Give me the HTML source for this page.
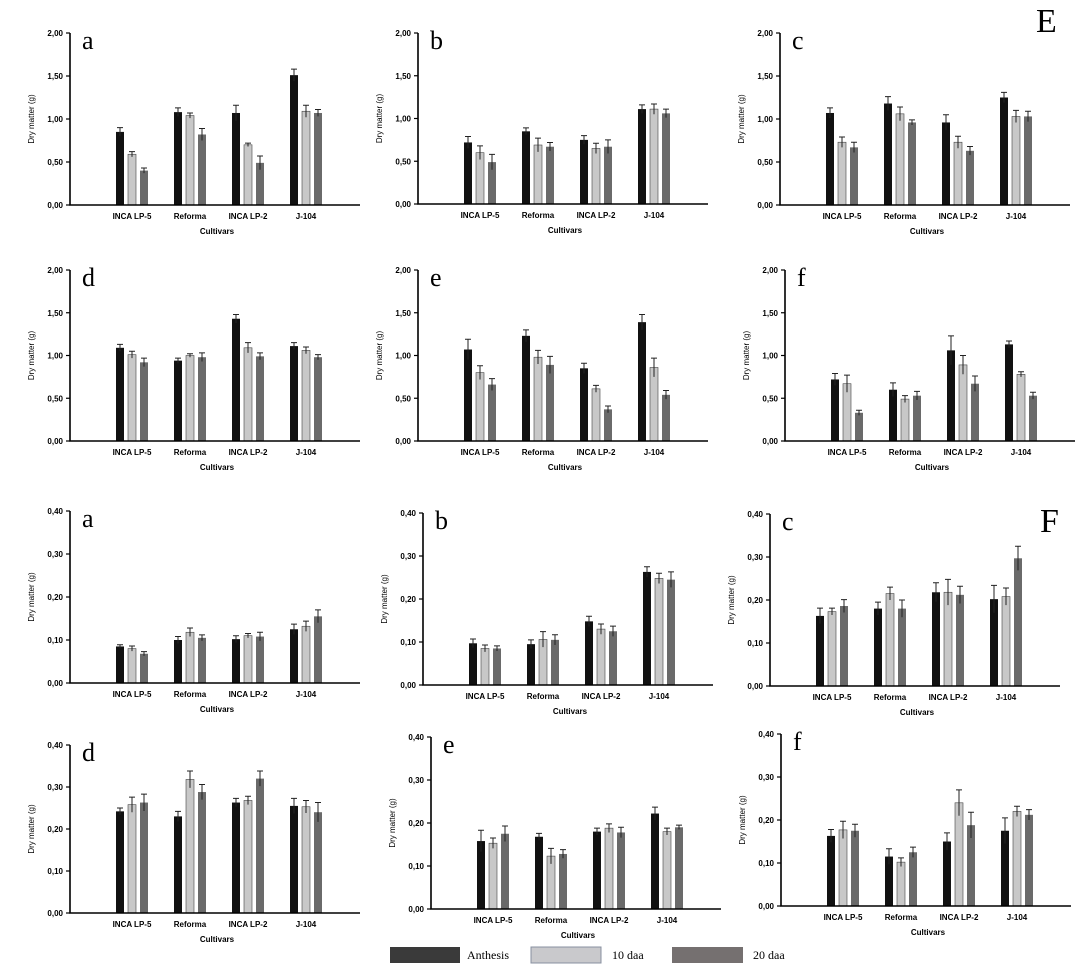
<!DOCTYPE html>
<html><head><meta charset="utf-8"><style>
body{margin:0;background:#fff;width:1082px;height:974px;overflow:hidden}
svg text{font-family:"Liberation Sans",Arial,sans-serif}
</style></head><body>
<svg id="fig" width="1082" height="974" viewBox="0 0 1082 974" xmlns="http://www.w3.org/2000/svg">
<text x="1036" y="32" font-size="34" style="font-family:'Liberation Serif',serif">E</text>
<text x="1040" y="532" font-size="34" style="font-family:'Liberation Serif',serif">F</text>
<g>
<rect x="390" y="947" width="70" height="16" fill="#3a3a3a"/>
<text x="467" y="959" font-size="12" style="font-family:'Liberation Serif',serif">Anthesis</text>
<rect x="531" y="947" width="70" height="16" fill="#c9c9cc" stroke="#8890a0"/>
<text x="612" y="959" font-size="12" style="font-family:'Liberation Serif',serif">10 daa</text>
<rect x="672" y="947" width="71" height="16" fill="#757070"/>
<text x="753" y="959" font-size="12" style="font-family:'Liberation Serif',serif">20 daa</text>
</g>
</svg>
<script>
const categories=["INCA LP-5","Reforma","INCA  LP-2","J-104"];
const seriesNames=["Anthesis","10 daa","20 daa"];
const ticksE=["0,00","0,50","1,00","1,50","2,00"];
const ticksF=["0,00","0,10","0,20","0,30","0,40"];
// E panels
const Ea=[[0.85,1.08,1.07,1.51],[0.59,1.04,0.70,1.09],[0.40,0.82,0.49,1.07]];
const EaErr=[[.05,.05,.09,.07],[.03,.03,.02,.07],[.03,.07,.08,.04]];
const Eb=[[0.72,0.85,0.75,1.11],[0.60,0.69,0.65,1.11],[0.49,0.67,0.67,1.06]];
const EbErr=[[.07,.04,.05,.05],[.08,.08,.06,.06],[.09,.05,.08,.05]];
const Ec=[[1.07,1.18,0.96,1.25],[0.73,1.06,0.73,1.03],[0.67,0.96,0.63,1.03]];
const EcErr=[[.06,.08,.09,.06],[.06,.08,.07,.07],[.06,.03,.05,.06]];
const Ed=[[1.09,0.94,1.43,1.11],[1.01,1.00,1.09,1.06],[0.92,0.98,0.99,0.98]];
const EdErr=[[.04,.03,.05,.04],[.04,.02,.06,.04],[.05,.05,.04,.03]];
const Ee=[[1.07,1.23,0.85,1.39],[0.80,0.98,0.61,0.86],[0.66,0.89,0.37,0.54]];
const EeErr=[[.12,.07,.06,.09],[.08,.08,.04,.11],[.07,.10,.04,.05]];
const Ef=[[0.72,0.60,1.06,1.13],[0.67,0.49,0.89,0.78],[0.33,0.53,0.67,0.53]];
const EfErr=[[.07,.08,.17,.04],[.10,.04,.11,.03],[.03,.05,.09,.04]];
// F panels
const Fa=[[.085,.10,.102,.125],[.08,.118,.11,.132],[.068,.105,.108,.155]];
const FaErr=[[.004,.008,.008,.012],[.006,.01,.005,.012],[.005,.007,.01,.015]];
const Fb=[[.097,.095,.148,.263],[.085,.106,.13,.248],[.085,.105,.125,.245]];
const FbErr=[[.01,.01,.012,.012],[.008,.018,.012,.012],[.006,.012,.012,.018]];
const Fc=[[.163,.18,.218,.202],[.173,.215,.218,.208],[.186,.18,.212,.297]];
const FcErr=[[.018,.015,.022,.032],[.008,.015,.03,.02],[.015,.02,.02,.028]];
const Fd=[[.242,.23,.263,.255],[.258,.318,.268,.253],[.263,.288,.32,.24]];
const FdErr=[[.008,.012,.01,.018],[.018,.02,.01,.015],[.02,.018,.018,.023]];
const Fe=[[.158,.168,.18,.222],[.153,.123,.188,.18],[.175,.128,.178,.19]];
const FeErr=[[.025,.008,.008,.015],[.012,.018,.01,.008],[.018,.01,.012,.005]];
const Ff=[[.163,.115,.15,.175],[.177,.102,.24,.22],[.175,.125,.188,.212]];
const FfErr=[[.015,.018,.02,.03],[.02,.01,.03,.012],[.015,.012,.03,.012]];

const NS="http://www.w3.org/2000/svg";
const svg=document.getElementById('fig');
function mk(tag,attrs,parent){const e=document.createElementNS(NS,tag);for(const k in attrs)e.setAttribute(k,attrs[k]);(parent||svg).appendChild(e);return e;}
const fills=["#111111","#c8c8c8","#6a6a6a"];
const panels=[
 {id:"e-a",L:"a",x:70,t:33,b:205,d:Ea,e:EaErr,max:2,ticks:ticksE},
 {id:"e-b",L:"b",x:418,t:33,b:204,d:Eb,e:EbErr,max:2,ticks:ticksE},
 {id:"e-c",L:"c",x:780,t:33,b:205,d:Ec,e:EcErr,max:2,ticks:ticksE},
 {id:"e-d",L:"d",x:70,t:270,b:441,d:Ed,e:EdErr,max:2,ticks:ticksE},
 {id:"e-e",L:"e",x:418,t:270,b:441,d:Ee,e:EeErr,max:2,ticks:ticksE},
 {id:"e-f",L:"f",x:785,t:270,b:441,d:Ef,e:EfErr,max:2,ticks:ticksE},
 {id:"f-a",L:"a",x:70,t:511,b:683,d:Fa,e:FaErr,max:0.4,ticks:ticksF},
 {id:"f-b",L:"b",x:423,t:513,b:685,d:Fb,e:FbErr,max:0.4,ticks:ticksF},
 {id:"f-c",L:"c",x:770,t:514,b:686,d:Fc,e:FcErr,max:0.4,ticks:ticksF},
 {id:"f-d",L:"d",x:70,t:745,b:913,d:Fd,e:FdErr,max:0.4,ticks:ticksF},
 {id:"f-e",L:"e",x:431,t:737,b:909,d:Fe,e:FeErr,max:0.4,ticks:ticksF},
 {id:"f-f",L:"f",x:781,t:734,b:906,d:Ff,e:FfErr,max:0.4,ticks:ticksF}
];
panels.forEach(p=>{
 const g=mk('g',{});
 
 
 const y=v=>p.b-(v/p.max)*(p.b-p.t);
 const xs=(ci,si)=>p.x+46+58*ci+12*si;
 p.d.forEach((ser,si)=>ser.forEach((v,ci)=>{
  const x=xs(ci,si),top=y(v);
  const r=mk('rect',{x:x,y:top,width:8,height:p.b-top,fill:fills[si],stroke:si==1?"#444":"none","stroke-width":si==1?0.6:0},g);
  
  
  const ee=p.e[si][ci],yt=y(v+ee),yb=y(Math.max(0,v-ee));
  const eb=mk('path',{d:`M${x+4},${yb}V${yt}M${x+1},${yt}H${x+7}`,stroke:"#222","stroke-width":1,fill:"none"},g);
  
  
 }));
 const ax=mk('path',{d:`M${p.x},${p.t}V${p.b}H${p.x+290}`,stroke:"#000","stroke-width":1.6,fill:"none"},g);
 
 
 p.ticks.forEach((t,i)=>{
  const yy=y(p.max*i/(p.ticks.length-1));
  mk('line',{x1:p.x-4,x2:p.x,y1:yy,y2:yy,stroke:"#000","stroke-width":1.2},g);
  const tx=mk('text',{x:p.x-7,y:yy+3,"font-size":8,"font-weight":"bold","text-anchor":"end"},g);
  tx.textContent=t;
  
  
 });
 categories.forEach((c,ci)=>{
  const tx=mk('text',{x:xs(ci,1)+4,y:p.b+14,"font-size":8,"font-weight":"bold","text-anchor":"middle"},g);
  tx.textContent=c;
  
  
 });
 const xt=mk('text',{x:p.x+147,y:p.b+29,"font-size":8,"font-weight":"bold","text-anchor":"middle"},g);
 xt.textContent="Cultivars";
 
 
 const cy=(p.t+p.b)/2;
 const yt=mk('text',{x:p.x-36,y:cy,"font-size":8,"text-anchor":"middle",transform:`rotate(-90 ${p.x-36} ${cy})`},g);
 yt.textContent="Dry matter (g)";
 
 
 const lt=mk('text',{x:p.x+12,y:p.t+16,"font-size":26,style:"font-family:'Liberation Serif',serif"},g);
 lt.textContent=p.L;
 
 
});
</script>
</body></html>
